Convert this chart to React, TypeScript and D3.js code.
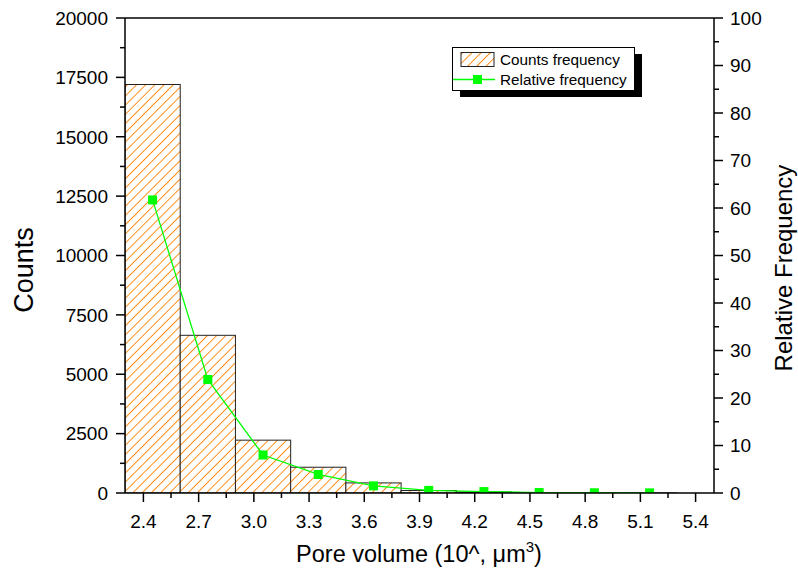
import React from "react";
import * as d3 from "d3";

const binCenters = [2.45, 2.75, 3.05, 3.35, 3.65, 3.95, 4.25, 4.55, 4.85, 5.15];
const counts = [17200, 6640, 2225, 1085, 425, 105, 40, 12, 5, 2];
const relFreq = [61.7, 23.9, 8.0, 3.9, 1.5, 0.55, 0.3, 0.1, 0.05, 0.03];
const binWidth = 0.3;
const xTickValues = [2.4, 2.7, 3.0, 3.3, 3.6, 3.9, 4.2, 4.5, 4.8, 5.1, 5.4];
const xTickLabels = ["2.4", "2.7", "3.0", "3.3", "3.6", "3.9", "4.2", "4.5", "4.8", "5.1", "5.4"];
const leftTicks = [0, 2500, 5000, 7500, 10000, 12500, 15000, 17500, 20000];
const rightTicks = [0, 10, 20, 30, 40, 50, 60, 70, 80, 90, 100];
const legendLabels = ["Counts frequency", "Relative frequency"];

const FONT = "'Liberation Sans', Arial, Helvetica, sans-serif";
const ORANGE = "#FF8A10";
const GREEN = "#00FF00";

export default function App() {
  const W = 798, H = 576;
  const L = 125, R = 714, T = 18, B = 493;
  const x = d3.scaleLinear().domain([2.3, 5.5]).range([L, R]);
  const yL = d3.scaleLinear().domain([0, 20000]).range([B, T]);
  const yR = d3.scaleLinear().domain([0, 100]).range([B, T]);

  const xMinor = xTickValues.slice(0, -1).map((v, i) => (v + xTickValues[i + 1]) / 2);
  const lMinor = leftTicks.slice(0, -1).map((v, i) => (v + leftTicks[i + 1]) / 2);
  const rMinor = rightTicks.slice(0, -1).map((v, i) => (v + rightTicks[i + 1]) / 2);

  const line = d3.line<number>().x((_, i) => x(binCenters[i])).y((d) => yR(d));
  const tickFs = 19;

  return (
    <div style={{ position: "fixed", left: 0, top: 0, width: W, height: H, background: "#fff" }}>
      <svg width={W} height={H} style={{ display: "block" }} fontFamily={FONT}>
        <defs>
          <pattern id="hatch" patternUnits="userSpaceOnUse" width={6.5} height={6.5} patternTransform="rotate(45)">
            <rect width={6.5} height={6.5} fill="#fff" />
            <line x1={0} y1={0} x2={0} y2={6.5} stroke={ORANGE} strokeWidth={1.9} />
          </pattern>
          <clipPath id="plot">
            <rect x={L} y={T} width={R - L} height={B - T} />
          </clipPath>
        </defs>
        <rect width={W} height={H} fill="#fff" />

        {/* bars */}
        <g clipPath="url(#plot)">
          {counts.map((c, i) => (
            <rect
              key={i}
              x={x(binCenters[i] - binWidth / 2)}
              y={yL(c)}
              width={x(binCenters[i] + binWidth / 2) - x(binCenters[i] - binWidth / 2)}
              height={B - yL(c)}
              fill="url(#hatch)"
              stroke="#222"
              strokeWidth={1}
            />
          ))}
        </g>

        {/* relative frequency line */}
        <g clipPath="url(#plot)">
          <path d={line(relFreq) || ""} fill="none" stroke={GREEN} strokeWidth={1.3} />
          {relFreq.map((v, i) => (
            <rect key={i} x={x(binCenters[i]) - 4.5} y={yR(v) - 4.5} width={9} height={9} fill={GREEN} />
          ))}
        </g>

        {/* axes frame */}
        <g stroke="#000" strokeWidth={1.5} fill="none">
          <line x1={L} y1={T} x2={L} y2={B} />
          <line x1={R} y1={T} x2={R} y2={B} />
          <line x1={L} y1={B} x2={R} y2={B} />
          <line x1={L} y1={T} x2={R} y2={T} />
          {xTickValues.map((v, i) => (
            <line key={"xm" + i} x1={x(v)} y1={B} x2={x(v)} y2={B + 9} />
          ))}
          {xMinor.map((v, i) => (
            <line key={"xn" + i} x1={x(v)} y1={B} x2={x(v)} y2={B + 5} />
          ))}
          {leftTicks.map((v, i) => (
            <line key={"lm" + i} x1={L - 9} y1={yL(v)} x2={L} y2={yL(v)} />
          ))}
          {lMinor.map((v, i) => (
            <line key={"ln" + i} x1={L - 5} y1={yL(v)} x2={L} y2={yL(v)} />
          ))}
          {rightTicks.map((v, i) => (
            <line key={"rm" + i} x1={R} y1={yR(v)} x2={R + 9} y2={yR(v)} />
          ))}
          {rMinor.map((v, i) => (
            <line key={"rn" + i} x1={R} y1={yR(v)} x2={R + 5} y2={yR(v)} />
          ))}
        </g>

        {/* tick labels */}
        <g fontSize={tickFs} fill="#000">
          {xTickValues.map((v, i) => (
            <text key={"xl" + i} x={x(v)} y={528} textAnchor="middle">{xTickLabels[i]}</text>
          ))}
          {leftTicks.map((v, i) => (
            <text key={"ll" + i} x={108} y={yL(v) + 6.8} textAnchor="end">{v}</text>
          ))}
          {rightTicks.map((v, i) => (
            <text key={"rl" + i} x={730} y={yR(v) + 6.8} textAnchor="start">{v}</text>
          ))}
        </g>

        {/* axis titles */}
        <text x={33} y={270} transform="rotate(-90 33 270)" textAnchor="middle" fontSize={27}>Counts</text>
        <text x={792} y={268} transform="rotate(-90 792 268)" textAnchor="middle" fontSize={24}>Relative Frequency</text>
        <text x={419} y={562} textAnchor="middle" fontSize={23.5}>
          Pore volume (10^, μm<tspan fontSize={15} dy={-10}>3</tspan><tspan dy={10}>)</tspan>
        </text>

        {/* legend */}
        <rect x={460} y={54} width={182} height={43} fill="#000" />
        <rect x={452.5} y={47.5} width={182} height={43} fill="#fff" stroke="#000" strokeWidth={1} />
        <rect x={461} y={52.5} width={33} height={14} fill="url(#hatch)" stroke="#222" strokeWidth={1} />
        <line x1={453} y1={79.5} x2={495} y2={79.5} stroke={GREEN} strokeWidth={1.3} />
        <rect x={473} y={75} width={9} height={9} fill={GREEN} />
        <text x={500} y={65} fontSize={15.3}>{legendLabels[0]}</text>
        <text x={500} y={84.5} fontSize={15.3}>{legendLabels[1]}</text>
      </svg>
    </div>
  );
}
